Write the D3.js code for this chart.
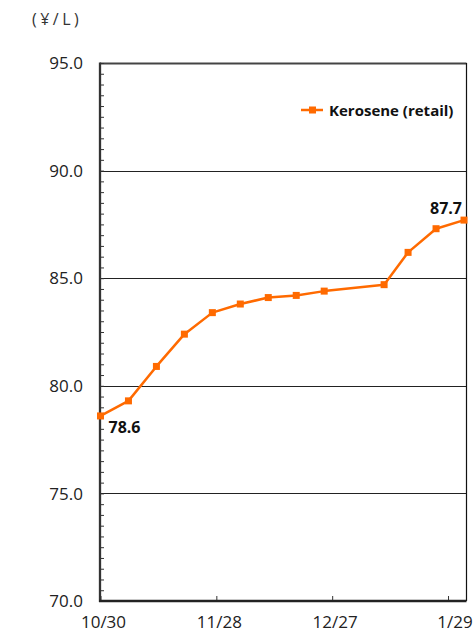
<!DOCTYPE html>
<html>
<head>
<meta charset="utf-8">
<script src="https://cdn.jsdelivr.net/npm/d3@7"></script>
<style>
  html, body { margin: 0; padding: 0; background: #fff; }
  svg { display: block; }
  text { font-family: "Open Sans", "DejaVu Sans", sans-serif; }
</style>
</head>
<body>
<script>
// ---- data ----
const dates = ["2023-10-30","2023-11-06","2023-11-13","2023-11-20","2023-11-27","2023-12-04",
               "2023-12-11","2023-12-18","2023-12-25","2024-01-09","2024-01-15","2024-01-22","2024-01-29"];
const keroseneRetail = [78.6, 79.3, 80.9, 82.4, 83.4, 83.8, 84.1, 84.2, 84.4, 84.7, 86.2, 87.3, 87.7];
const seriesName = "Kerosene (retail)";
const yTicks = [70, 75, 80, 85, 90, 95];
const xTickDates = ["2023-10-30", "2023-11-28", "2023-12-27", "2024-01-25"];
const xTickLabels = ["10/30", "11/28", "12/27", "1/29"];
const unitLabel = "(¥/L)";
const labeledIdx = [0, 12];

// ---- layout ----
const W = 475, H = 633;
const m = { left: 100, top: 63 };
const pw = 366.5, ph = 538;
const parse = d3.timeParse("%Y-%m-%d");
const orange = "#FF6A00";

const svg = d3.select("body").append("svg").attr("width", W).attr("height", H);
const g = svg.append("g").attr("transform", `translate(${m.left},${m.top})`);

const x = d3.scaleTime()
  .domain([parse(dates[0]), parse(dates[dates.length - 1])])
  .range([0.5, 364]);
const y = d3.scaleLinear().domain([70, 95]).range([ph, 0]);

// gridlines
g.append("g").selectAll("line")
  .data(yTicks.filter(v => v > 70 && v < 95))
  .join("line")
  .attr("x1", 0).attr("x2", pw)
  .attr("y1", d => Math.round(y(d)) + 0.5).attr("y2", d => Math.round(y(d)) + 0.5)
  .attr("stroke", "#222").attr("stroke-width", 1);

// frame top and right
g.append("line").attr("x1", 0).attr("x2", pw).attr("y1", 0.5).attr("y2", 0.5)
  .attr("stroke", "#444").attr("stroke-width", 2);
g.append("line").attr("x1", pw).attr("x2", pw).attr("y1", 0).attr("y2", ph)
  .attr("stroke", "#111").attr("stroke-width", 1.2);

// left axis with minor ticks every 0.5
const minor = d3.range(70, 95.001, 0.5);
const yAxis = d3.axisRight(y).tickValues(minor).tickSize(4).tickFormat("");
const ya = g.append("g").call(yAxis);
ya.select(".domain").remove();
ya.selectAll("line").attr("stroke", "#333").attr("stroke-width", 1);
g.append("line").attr("x1", 0).attr("x2", 0).attr("y1", -0.5).attr("y2", ph + 1)
  .attr("stroke", "#333").attr("stroke-width", 2.3);

// y tick labels
g.append("g").selectAll("text")
  .data(yTicks).join("text")
  .attr("x", -17).attr("y", d => y(d))
  .attr("dy", "0.36em")
  .attr("text-anchor", "end")
  .attr("font-size", 17)
  .attr("fill", "#222")
  .text(d => d.toFixed(1));

// bottom axis
const xAxis = d3.axisTop(x).tickValues(xTickDates.map(parse)).tickSize(5).tickFormat("");
const xa = g.append("g").attr("transform", `translate(0,${ph})`).call(xAxis);
xa.select(".domain").remove();
xa.selectAll("line").attr("stroke", "#333").attr("stroke-width", 1);
g.append("line").attr("x1", -1).attr("x2", pw).attr("y1", ph).attr("y2", ph)
  .attr("stroke", "#222").attr("stroke-width", 2.5);

g.append("g").selectAll("text")
  .data(xTickDates).join("text")
  .attr("x", (d, i) => x(parse(d)) + (i === xTickDates.length - 1 ? 7 : 3))
  .attr("y", ph + 27)
  .attr("text-anchor", "middle")
  .attr("font-size", 17)
  .attr("fill", "#222")
  .text((d, i) => xTickLabels[i]);

// unit label
svg.append("text")
  .attr("x", 32).attr("y", 25)
  .attr("font-size", 16)
  .attr("letter-spacing", 3.5)
  .attr("fill", "#333")
  .text(unitLabel);

// series line
const pts = dates.map((d, i) => ({ date: parse(d), v: keroseneRetail[i] }));
g.append("path")
  .datum(pts)
  .attr("fill", "none")
  .attr("stroke", orange)
  .attr("stroke-width", 2.5)
  .attr("stroke-linejoin", "round")
  .attr("d", d3.line().x(d => x(d.date)).y(d => y(d.v)));

g.append("g").selectAll("rect")
  .data(pts).join("rect")
  .attr("x", d => x(d.date) - 3.5).attr("y", d => y(d.v) - 3.5)
  .attr("width", 7).attr("height", 7)
  .attr("fill", orange);

// data labels
g.append("g").selectAll("text")
  .data(labeledIdx).join("text")
  .attr("x", i => i === 0 ? x(pts[i].date) + 8 : x(pts[i].date) - 34)
  .attr("y", i => i === 0 ? y(pts[i].v) + 17 : y(pts[i].v) - 6)
  .attr("font-size", 16)
  .attr("font-weight", "bold")
  .attr("fill", "#111")
  .text(i => pts[i].v.toFixed(1));

// legend
const lg = svg.append("g").attr("transform", "translate(301,110)");
lg.append("line").attr("x1", 0).attr("x2", 22).attr("y1", 0).attr("y2", 0)
  .attr("stroke", orange).attr("stroke-width", 2.5);
lg.append("rect").attr("x", 8).attr("y", -3.5).attr("width", 7).attr("height", 7).attr("fill", orange);
lg.append("text").attr("x", 28).attr("y", 5.5)
  .attr("font-size", 15).attr("font-weight", "bold").attr("fill", "#111")
  .text(seriesName);
</script>
</body>
</html>
